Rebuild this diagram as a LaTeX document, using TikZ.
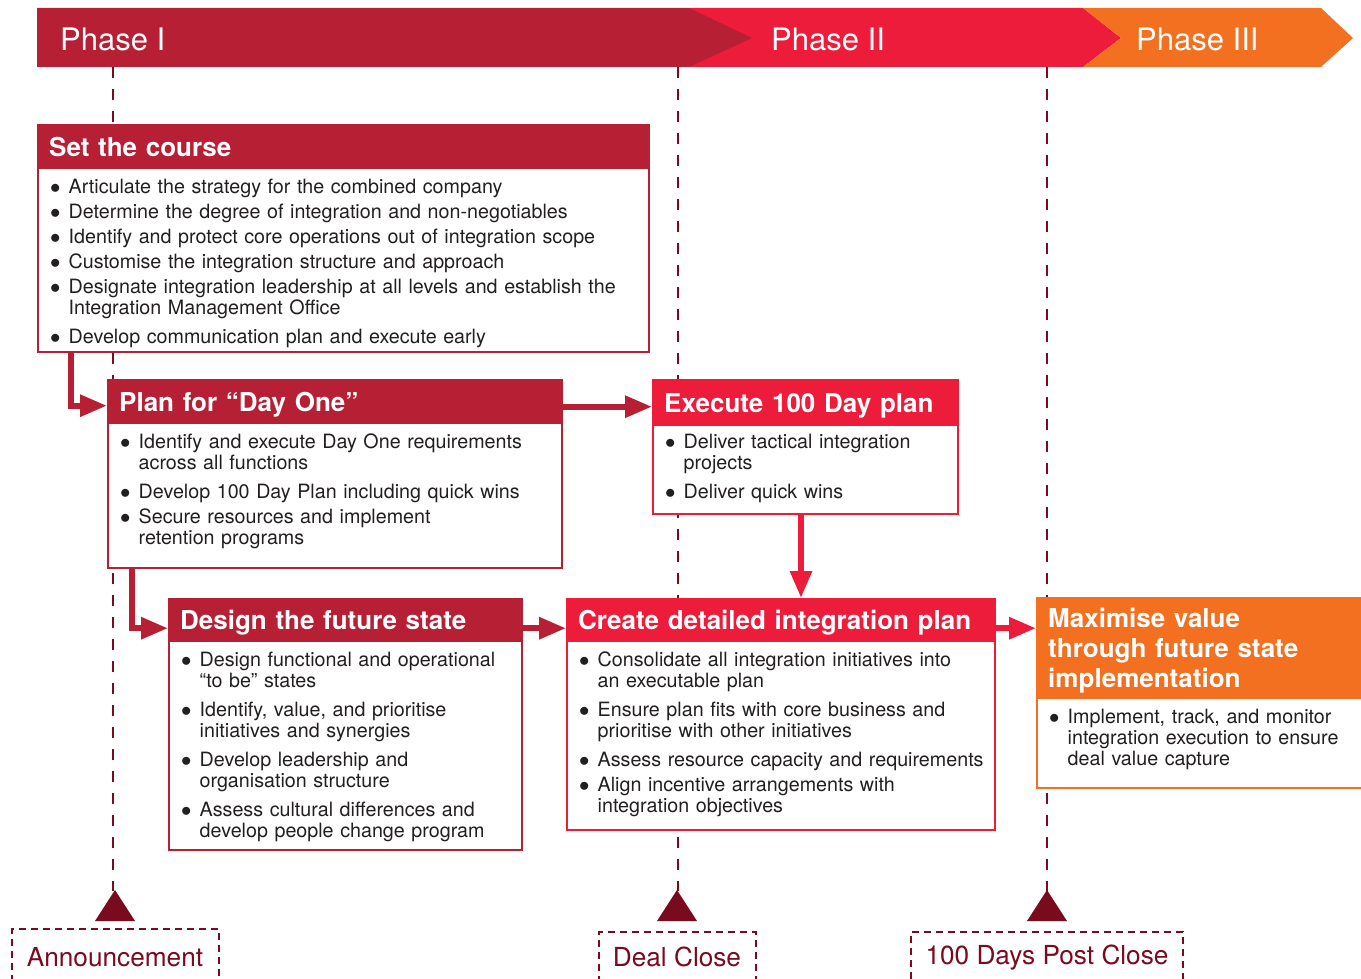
\documentclass[tikz,border=0pt]{standalone}
\usepackage{fontspec}
\setmainfont{TeX Gyre Heros}
\usetikzlibrary{calc,arrows.meta,positioning}

\definecolor{phaseone}{HTML}{B71F35}
\definecolor{phasetwo}{HTML}{ED1C3A}
\definecolor{phasethree}{HTML}{F37021}
\definecolor{maroon}{HTML}{7A0A1E}
\definecolor{bodytext}{HTML}{231F20}

\newcommand{\itm}[1]{\noindent\hangindent=18.5pt\hangafter=1\hbox to 18.5pt{$\bullet$\hfil}#1\par\vspace{4pt}}
\newcommand{\itmm}[1]{\itm{#1}\vspace{4pt}}

\tikzstyle{phase label}=[anchor=west,text=white,font=\fontsize{31}{36}\selectfont,inner sep=0pt]
\tikzstyle{time line}=[draw=maroon,line width=2pt,dash pattern=on 11pt off 11pt]
\tikzstyle{milestone}=[draw=maroon,text=maroon,line width=2pt,dash pattern=on 7pt off 5pt,inner sep=0pt,anchor=north,font=\fontsize{26.2}{30}\selectfont]
\tikzstyle{box body}=[anchor=base west,align=left,inner sep=0pt,text=bodytext,font=\fontsize{19.7}{21}\selectfont]
\tikzstyle{one line}=[text height=19pt,text depth=0pt]
\tikzset{
  box frame/.style={draw=#1,line width=1.5pt,fill=white,anchor=north west,inner sep=0pt},
  box head/.style={fill=#1,anchor=north west,text=white,align=left,inner xsep=12pt,inner ysep=0pt,font=\fontsize{26}{30}\selectfont\bfseries},
  link/.style={draw=#1,line width=6pt,-{Triangle[length=27pt,width=21pt]}}
}

\begin{document}
\begin{tikzpicture}[x=1pt,y=-1pt]
\useasboundingbox (0,0) rectangle (1361,979);
\clip (0,0) rectangle (1361,979);

% phase banner
\fill[phasetwo] (689,8) -- (1083,8) -- (1121,38) -- (1083,67) -- (689,67) -- cycle;
\fill[phaseone] (37,8) -- (689,8) -- (752,38) -- (689,67) -- (37,67) -- cycle;
\fill[phasethree] (1083,8) -- (1321,8) -- (1353,38) -- (1321,67) -- (1083,67) -- (1121,38) -- cycle;
\node[phase label] (ph1) at (60,39) {Phase I};
\node[phase label] (ph2) at (771,39) {Phase II};
\node[phase label] (ph3) at (1136,39) {Phase III};

% milestones
\node[milestone,minimum width=207pt,minimum height=56pt] (ann) at (115,928) {Announcement};
\node[milestone,minimum width=157pt,minimum height=50pt] (dc) at (677,931) {Deal Close};
\node[milestone,minimum width=272pt,minimum height=52pt] (pc) at (1047,931) {100 Days Post Close};
\foreach \m/\x in {ann/113,dc/678,pc/1047}{
  \draw[time line] (\x,67) -- (\x,891);
  \fill[maroon] ($(\m.north |- 0,921)+(-20,0)$) -- ($(\m.north |- 0,921)+(0,-31)$) -- ($(\m.north |- 0,921)+(20,0)$) -- cycle;
}

% set the course
\node[box frame=phaseone,minimum width=611pt,minimum height=227pt] (sc) at (37,124) {};
\node[box head=phaseone,one line,text width=587pt,minimum height=45pt] (sc-h) at (sc.north west) {Set the course};
\node[box body,text width=600pt] (sc-b) at ($(sc-h.south west)+(13,24)$) {%
  \itm{Articulate the strategy for the combined company}
  \itm{Determine the degree of integration and non-negotiables}
  \itm{Identify and protect core operations out of integration scope}
  \itm{Customise the integration structure and approach}
  \itmm{Designate integration leadership at all levels and establish the\newline Integration Management Office}
  \itm{Develop communication plan and execute early}};

% plan for day one
\node[box frame=phaseone,minimum width=454pt,minimum height=188pt] (pd) at (107,379) {};
\node[box head=phaseone,one line,text width=430pt,minimum height=45pt] (pd-h) at (pd.north west) {Plan for ``Day One''};
\node[box body,text width=440pt] (pd-b) at ($(pd-h.south west)+(13,24)$) {%
  \itmm{Identify and execute Day One requirements\newline across all functions}
  \itm{Develop 100 Day Plan including quick wins}
  \itm{Secure resources and implement\newline retention programs}};

% execute 100 day plan
\node[box frame=phasetwo,minimum width=305pt,minimum height=134pt] (ex) at (652,379) {};
\node[box head=phasetwo,one line,text width=281pt,minimum height=47pt] (ex-h) at (ex.north west) {Execute 100 Day plan};
\node[box body,text width=290pt] (ex-b) at ($(ex-h.south west)+(13,22)$) {%
  \itmm{Deliver tactical integration\newline projects}
  \itm{Deliver quick wins}};

% design the future state
\node[box frame=phaseone,minimum width=353pt,minimum height=251pt] (ds) at (168,598) {};
\node[box head=phaseone,one line,text width=329pt,minimum height=44pt] (ds-h) at (ds.north west) {Design the future state};
\node[box body,text width=345pt] (ds-b) at ($(ds-h.south west)+(13,24)$) {%
  \itmm{Design functional and operational\newline ``to be'' states}
  \itmm{Identify, value, and prioritise\newline initiatives and synergies}
  \itmm{Develop leadership and\newline organisation structure}
  \itm{Assess cultural differences and\newline develop people change program}};

% create detailed integration plan
\node[box frame=phasetwo,minimum width=428pt,minimum height=231pt] (cr) at (566,598) {};
\node[box head=phasetwo,one line,text width=404pt,minimum height=44pt] (cr-h) at (cr.north west) {Create detailed integration plan};
\node[box body,text width=420pt] (cr-b) at ($(cr-h.south west)+(13,24)$) {%
  \itmm{Consolidate all integration initiatives into\newline an executable plan}
  \itmm{Ensure plan fits with core business and\newline prioritise with other initiatives}
  \itm{Assess resource capacity and requirements}
  \itm{Align incentive arrangements with\newline integration objectives}};

% maximise value
\node[box frame=phasethree,minimum width=330pt,minimum height=190pt] (mx) at (1036,597) {};
\node[box head=phasethree,text width=306pt,minimum height=102pt] (mx-h) at (mx.north west) {\rule{0pt}{25pt}Maximise value\\through future state\\implementation};
\node[box body,text width=310pt] (mx-b) at ($(mx-h.south west)+(13,24)$) {%
  \itm{Implement, track, and monitor\newline integration execution to ensure\newline deal value capture}};

% connectors
\draw[link=phaseone] ($(sc.south west)+(34,0)$) |- ($(pd-h.west)+(0,4)$);
\draw[link=phaseone] ($(pd-h.east)+(0,5)$) -- ($(pd-h.east -| ex-h.west)+(0,5)$);
\draw[link=phaseone] ($(pd.south west)+(25,0)$) |- ($(ds-h.west)+(0,8)$);
\draw[link=phaseone] ($(ds-h.east)+(0,8)$) -- ($(ds-h.east -| cr-h.west)+(0,8)$);
\draw[link=phasetwo] (ex.south -| 801,0) -- (cr.north -| 801,0);
\draw[link=phasetwo] ($(cr-h.east)+(0,8)$) -- ($(cr-h.east -| mx-h.west)+(0,8)$);

\end{tikzpicture}
\end{document}
